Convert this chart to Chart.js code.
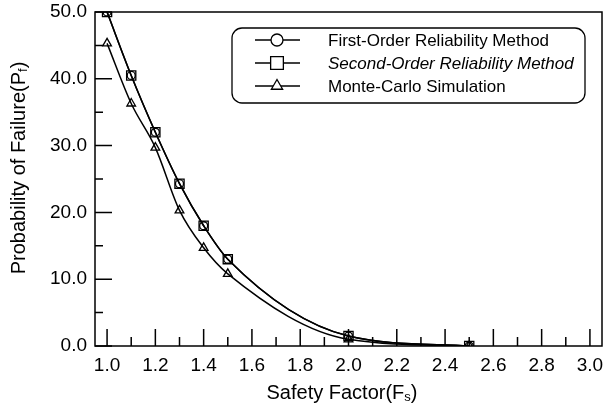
<!DOCTYPE html>
<html>
<head>
<meta charset="utf-8">
<script src="https://cdn.jsdelivr.net/npm/chart.js@4"></script>
<style>
  body { margin: 0; background: #fff; }
  canvas { display: block; }
</style>
</head>
<body>
<canvas id="chart" width="604" height="407"></canvas>
<script>
// Data
const safetyFactor = [1.0, 1.1, 1.2, 1.3, 1.4, 1.5, 2.0, 2.5];
const formValues = [50.0, 40.5, 32.0, 24.3, 18.0, 13.0, 1.5, 0.0];
const sormValues = [50.0, 40.5, 32.0, 24.3, 18.0, 13.0, 1.5, 0.0];
const mcsValues = [45.3, 36.3, 29.7, 20.3, 14.7, 10.8, 1.0, 0.0];
const xTicks = [1.0, 1.2, 1.4, 1.6, 1.8, 2.0, 2.2, 2.4, 2.6, 2.8, 3.0];
const xMinorTicks = [1.1, 1.3, 1.5, 1.7, 1.9, 2.1, 2.3, 2.5, 2.7, 2.9];
const yTicks = [0, 10, 20, 30, 40, 50];
const yMinorTicks = [5, 15, 25, 35, 45];
const seriesNames = ['First-Order Reliability Method', 'Second-Order Reliability Method', 'Monte-Carlo Simulation'];

const FONT = '"Liberation Sans", Arial, sans-serif';

function toPoints(values) {
    return safetyFactor.map((x, i) => ({ x: x, y: values[i] }));
}

// Inward ticks, frame, legend box and axis titles
const framePlugin = {
    id: 'frame',
    afterDraw(chart) {
        const ctx = chart.ctx;
        const area = chart.chartArea;
        const xs = chart.scales.x;
        const ys = chart.scales.y;
        ctx.save();
        ctx.strokeStyle = '#000';
        ctx.lineWidth = 1.5;

        // frame
        ctx.strokeRect(area.left, area.top, area.right - area.left, area.bottom - area.top);

        // x ticks pointing up
        ctx.beginPath();
        xTicks.forEach(v => {
            const px = xs.getPixelForValue(v);
            ctx.moveTo(px, area.bottom);
            ctx.lineTo(px, area.bottom - 17);
        });
        xMinorTicks.forEach(v => {
            const px = xs.getPixelForValue(v);
            ctx.moveTo(px, area.bottom);
            ctx.lineTo(px, area.bottom - 9);
        });
        // y ticks pointing right
        yTicks.forEach(v => {
            const py = ys.getPixelForValue(v);
            ctx.moveTo(area.left, py);
            ctx.lineTo(area.left + 17, py);
        });
        yMinorTicks.forEach(v => {
            const py = ys.getPixelForValue(v);
            ctx.moveTo(area.left, py);
            ctx.lineTo(area.left + 8, py);
        });
        ctx.stroke();

        // legend
        const lx = 232, ly = 28, lw = 353, lh = 75, r = 10;
        ctx.lineWidth = 1.3;
        ctx.beginPath();
        ctx.roundRect(lx, ly, lw, lh, r);
        ctx.fillStyle = '#fff';
        ctx.fill();
        ctx.stroke();

        const legendRadius = [6, 9, 6.5];
        chart.data.datasets.forEach((ds, i) => {
            const yy = 40 + i * 23;
            ctx.lineWidth = 1.3;
            ctx.strokeStyle = '#000';
            ctx.beginPath();
            ctx.moveTo(255, yy);
            ctx.lineTo(300, yy);
            ctx.stroke();
            ctx.fillStyle = '#fff';
            Chart.helpers.drawPoint(ctx, {
                pointStyle: ds.pointStyle,
                radius: legendRadius[i],
                borderWidth: 1.3
            }, 277, yy);
            ctx.fillStyle = '#000';
            ctx.textBaseline = 'middle';
            ctx.textAlign = 'left';
            ctx.font = (i === 1 ? 'italic ' : '') + '17px ' + FONT;
            ctx.fillText(ds.label, 328, yy + 1);
        });

        // axis titles with subscripts
        ctx.fillStyle = '#000';
        ctx.textBaseline = 'alphabetic';
        const drawTitle = (main, sub, tail, cx, cy) => {
            ctx.font = '20px ' + FONT;
            const w1 = ctx.measureText(main).width;
            const w3 = ctx.measureText(tail).width;
            ctx.font = '13px ' + FONT;
            const w2 = ctx.measureText(sub).width;
            const x0 = cx - (w1 + w2 + w3) / 2;
            ctx.font = '20px ' + FONT;
            ctx.fillText(main, x0, cy);
            ctx.font = '13px ' + FONT;
            ctx.fillText(sub, x0 + w1, cy + 2);
            ctx.font = '20px ' + FONT;
            ctx.fillText(tail, x0 + w1 + w2, cy);
        };
        drawTitle('Safety Factor(F', 's', ')', 342, 399);
        ctx.save();
        ctx.translate(25, 168);
        ctx.rotate(-Math.PI / 2);
        drawTitle('Probability of Failure(P', 'f', ')', 0, 0);
        ctx.restore();

        ctx.restore();
    }
};

const lineStyle = {
    borderColor: '#000',
    backgroundColor: 'rgba(0,0,0,0)',
    pointBorderColor: '#000',
    pointBackgroundColor: 'rgba(0,0,0,0)',
    borderWidth: 1.5,
    pointBorderWidth: 1.3,
    tension: 0.4,
    cubicInterpolationMode: 'monotone'
};

new Chart(document.getElementById('chart'), {
    type: 'line',
    data: {
        datasets: [
            Object.assign({}, lineStyle, {
                label: seriesNames[0],
                data: toPoints(formValues),
                pointStyle: 'circle',
                pointRadius: 4
            }),
            Object.assign({}, lineStyle, {
                label: seriesNames[1],
                data: toPoints(sormValues),
                pointStyle: 'rect',
                pointRadius: 6.5
            }),
            Object.assign({}, lineStyle, {
                label: seriesNames[2],
                data: toPoints(mcsValues),
                pointStyle: 'triangle',
                pointRadius: 5
            })
        ]
    },
    options: {
        responsive: false,
        animation: false,
        layout: { autoPadding: false, padding: { top: 12, right: 2, left: 0, bottom: 0 } },
        plugins: {
            legend: { display: false },
            tooltip: { enabled: false }
        },
        scales: {
            x: {
                type: 'linear',
                min: 0.95,
                max: 3.05,
                grid: { display: false, drawTicks: false },
                border: { display: false },
                afterBuildTicks: s => { s.ticks = xTicks.map(v => ({ value: v })); },
                afterFit: s => { s.height = 61; s.paddingLeft = 0; s.paddingRight = 0; },
                ticks: {
                    color: '#000',
                    font: { family: FONT, size: 19 },
                    padding: 8,
                    maxRotation: 0,
                    autoSkip: false,
                    callback: v => Number(v).toFixed(1)
                }
            },
            y: {
                min: 0,
                max: 50,
                grid: { display: false, drawTicks: false },
                border: { display: false },
                afterBuildTicks: s => { s.ticks = yTicks.map(v => ({ value: v })); },
                afterFit: s => { s.width = 95; s.paddingTop = 0; s.paddingBottom = 0; },
                ticks: {
                    color: '#000',
                    font: { family: FONT, size: 19 },
                    padding: 8,
                    callback: v => Number(v).toFixed(1)
                }
            }
        }
    },
    plugins: [framePlugin]
});
</script>
</body>
</html>
